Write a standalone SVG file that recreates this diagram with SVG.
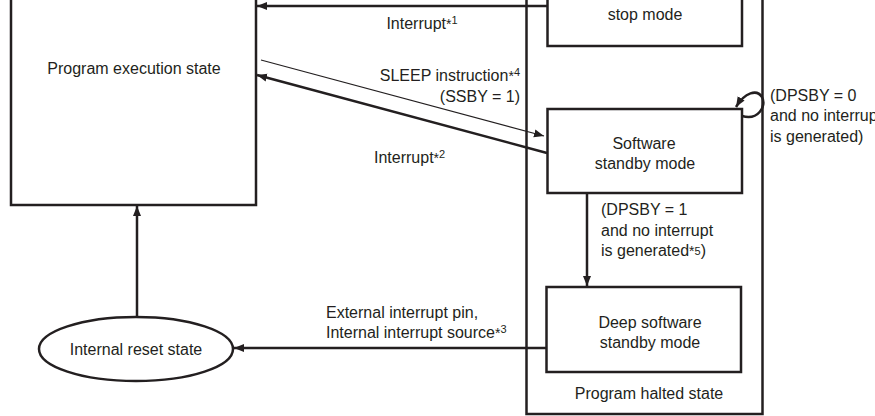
<svg xmlns="http://www.w3.org/2000/svg" width="875" height="416" viewBox="0 0 875 416">
<defs>
<style>
.box{fill:none;stroke:#231f20;stroke-width:2.5}
.t{font-family:"Liberation Sans",Arial,sans-serif;font-size:16px;fill:#231f20}
.m{text-anchor:middle}
.e{text-anchor:end}
.sup{font-size:11px}
.ast{font-size:14px}
.ln{fill:none;stroke:#231f20;stroke-width:2.5}
.thin{fill:none;stroke:#231f20;stroke-width:1.2}
</style>
<marker id="ah" viewBox="0 0 10 10" refX="10" refY="5" markerWidth="10" markerHeight="10" markerUnits="userSpaceOnUse" orient="auto"><path d="M0,1 L10,5 L0,9 Z" fill="#231f20"/></marker>
</defs>
<rect width="875" height="416" fill="#fff"/>
<g id="program-execution">
<rect class="box" x="11" y="-10" width="245" height="215"/>
<text class="t m" x="134" y="74">Program execution state</text>
</g>
<g id="program-halted">
<rect class="box" x="526.5" y="-10" width="236" height="424"/>
<text class="t m" x="649" y="399">Program halted state</text>
</g>
<g id="stop-mode">
<rect class="box" x="547.5" y="-10" width="194.5" height="56"/>
<text class="t m" x="645" y="20">stop mode</text>
</g>
<g id="software-standby">
<rect class="box" x="547.5" y="109" width="194.5" height="84"/>
<text class="t m" x="644" y="149">Software</text>
<text class="t m" x="645" y="169">standby mode</text>
</g>
<g id="deep-software-standby">
<rect class="box" x="546.5" y="287" width="194.5" height="85"/>
<text class="t m" x="650" y="328">Deep software</text>
<text class="t m" x="650" y="348">standby mode</text>
</g>
<g id="internal-reset">
<ellipse class="box" cx="136" cy="349" rx="97" ry="32"/>
<text class="t m" x="136" y="355">Internal reset state</text>
</g>
<g id="connectors">
<line class="ln" x1="547" y1="6" x2="257" y2="6" marker-end="url(#ah)"/>
<line class="thin" x1="261" y1="60" x2="544" y2="136" marker-end="url(#ah)"/>
<line class="ln" x1="547" y1="153" x2="257" y2="75" marker-end="url(#ah)"/>
<line class="ln" x1="587" y1="194" x2="587" y2="286" marker-end="url(#ah)"/>
<line class="ln" x1="546" y1="348" x2="234" y2="348" marker-end="url(#ah)"/>
<line class="ln" x1="137" y1="317" x2="137" y2="206" marker-end="url(#ah)"/>
<path class="ln" d="M742,116 C758,121 767,106 762,97 C757,89 745,92 736,107" marker-end="url(#ah)"/>
</g>
<g id="labels">
<text class="t m" x="422" y="29">Interrupt<tspan class="ast">*</tspan><tspan class="sup" dy="-5">1</tspan></text>
<text class="t e" x="520" y="81">SLEEP instruction<tspan class="ast">*</tspan><tspan class="sup" dy="-5">4</tspan></text>
<text class="t e" x="520" y="102">(SSBY = 1)</text>
<text class="t" x="374" y="163">Interrupt<tspan class="ast">*</tspan><tspan class="sup" dy="-5">2</tspan></text>
<text class="t" x="770" y="101">(DPSBY = 0</text>
<text class="t" x="770" y="121">and no interrupt</text>
<text class="t" x="770" y="142">is generated)</text>
<text class="t" x="601" y="215">(DPSBY = 1</text>
<text class="t" x="601" y="236">and no interrupt</text>
<text class="t" x="601" y="256">is generated<tspan class="ast">*</tspan><tspan class="sup" dy="-1">5</tspan><tspan dy="1">)</tspan></text>
<text class="t" x="326" y="318">External interrupt pin,</text>
<text class="t" x="326" y="338">Internal interrupt source<tspan class="ast">*</tspan><tspan class="sup" dy="-5">3</tspan></text>
</g>
</svg>
